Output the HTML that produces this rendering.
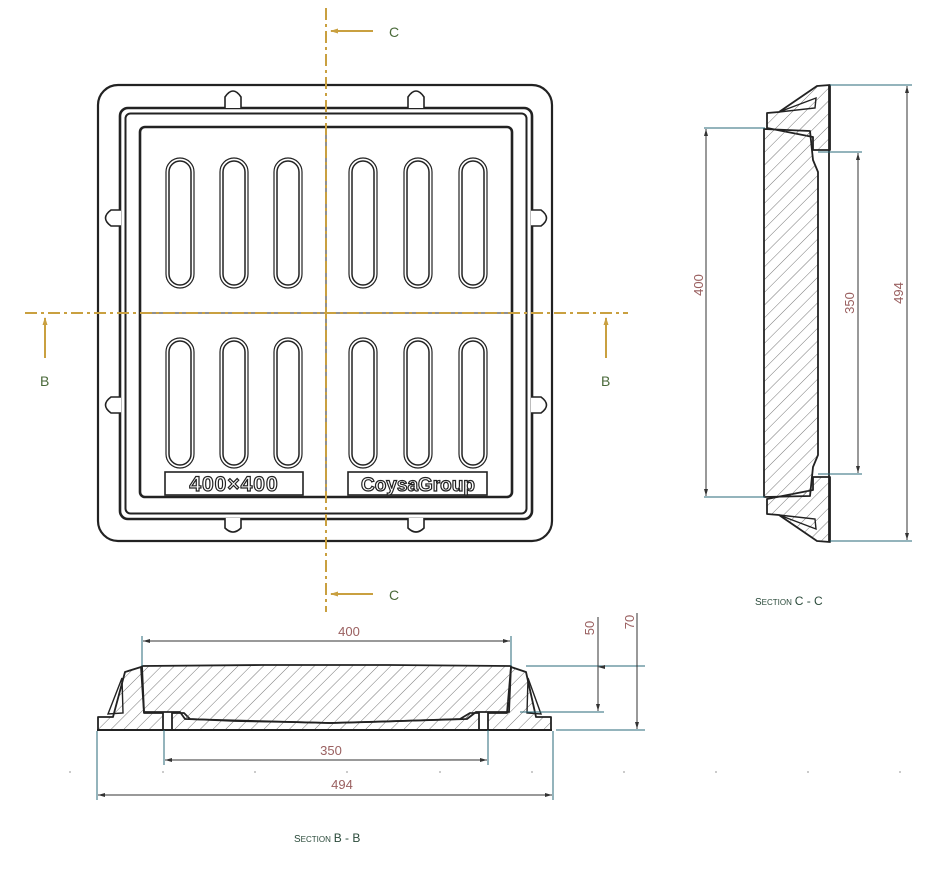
<!DOCTYPE html>
<html><head><meta charset="utf-8"><style>
html,body{margin:0;padding:0;background:#fff;}
svg{display:block;}
text{font-family:"Liberation Sans",sans-serif;}
</style></head><body>
<svg width="951" height="880" viewBox="0 0 951 880" xmlns="http://www.w3.org/2000/svg">
<defs>
<pattern id="h" patternUnits="userSpaceOnUse" width="9" height="9" patternTransform="rotate(45)">
<line x1="0" y1="0" x2="0" y2="9" stroke="#555" stroke-width="0.8"/>
</pattern>
<marker id="a" markerWidth="8" markerHeight="6" refX="7" refY="3" orient="auto-start-reverse" markerUnits="userSpaceOnUse">
<path d="M0,1 L7,3 L0,5 Z" fill="#333"/></marker>
<marker id="g" markerWidth="10" markerHeight="6" refX="1" refY="3" orient="auto" markerUnits="userSpaceOnUse">
<path d="M8,0.5 L0,3 L8,5.5 Z" fill="#c9a040"/></marker>
</defs>

<!-- PLAN -->
<g fill="none" stroke="#222">
<rect x="98" y="85" width="454" height="456" rx="20" stroke-width="2.2"/>
<rect x="120" y="108" width="412" height="411" rx="8" stroke-width="2.6"/>
<rect x="125.5" y="113.5" width="401" height="400" rx="5" stroke-width="2"/>
<rect x="140" y="127" width="372" height="370" rx="5" stroke-width="2.6"/>
</g>
<!-- lugs -->
<g fill="#fff" stroke="#222" stroke-width="1.6">
<path d="M225,108 L225,97 Q233,85 241,97 L241,108"/>
<path d="M408,108 L408,97 Q416,85 424,97 L424,108"/>
<path d="M225,518 L225,528 Q233,536 241,528 L241,518"/>
<path d="M408,518 L408,528 Q416,536 424,528 L424,518"/>
<path d="M121,210 L111,210 Q100,218 111,226 L121,226"/>
<path d="M121,397 L111,397 Q100,405 111,413 L121,413"/>
<path d="M531,210 L541,210 Q552,218 541,226 L531,226"/>
<path d="M531,397 L541,397 Q552,405 541,413 L531,413"/>
</g>
<!-- slots -->
<g fill="none" stroke="#222">
<g id="slots">
<rect x="166" y="158" width="28" height="130" rx="14" stroke-width="1.2"/>
<rect x="169" y="161" width="22" height="124" rx="11" stroke-width="1.5"/>
<rect x="220" y="158" width="28" height="130" rx="14" stroke-width="1.2"/>
<rect x="223" y="161" width="22" height="124" rx="11" stroke-width="1.5"/>
<rect x="274" y="158" width="28" height="130" rx="14" stroke-width="1.2"/>
<rect x="277" y="161" width="22" height="124" rx="11" stroke-width="1.5"/>
<rect x="349" y="158" width="28" height="130" rx="14" stroke-width="1.2"/>
<rect x="352" y="161" width="22" height="124" rx="11" stroke-width="1.5"/>
<rect x="404" y="158" width="28" height="130" rx="14" stroke-width="1.2"/>
<rect x="407" y="161" width="22" height="124" rx="11" stroke-width="1.5"/>
<rect x="459" y="158" width="28" height="130" rx="14" stroke-width="1.2"/>
<rect x="462" y="161" width="22" height="124" rx="11" stroke-width="1.5"/>
</g>
<use href="#slots" y="180"/>
<rect x="165" y="472" width="138" height="23" stroke-width="1.6"/>
<rect x="348" y="472" width="139" height="23" stroke-width="1.6"/>
</g>
<text x="234" y="491" font-size="21" font-weight="bold" text-anchor="middle" fill="#fff" stroke="#222" stroke-width="1.2" letter-spacing="1">400×400</text>
<text x="418" y="491" font-size="19" font-weight="bold" text-anchor="middle" fill="#fff" stroke="#222" stroke-width="1.2">CoysaGroup</text>
<line x1="326" y1="127" x2="326" y2="497" stroke="#222" stroke-width="1"/>
<line x1="140" y1="313" x2="512" y2="313" stroke="#222" stroke-width="1"/>
<!-- center lines -->
<g stroke="#c9a040" stroke-width="2" stroke-dasharray="12,4,3,4">
<line x1="326" y1="8" x2="326" y2="612"/>
<line x1="25" y1="313" x2="628" y2="313"/>
</g>
<g stroke="#c9a040" stroke-width="2">
<line x1="331" y1="31" x2="373" y2="31" marker-start="url(#g)"/>
<line x1="331" y1="594" x2="373" y2="594" marker-start="url(#g)"/>
<line x1="45" y1="318" x2="45" y2="358" marker-start="url(#g)"/>
<line x1="606" y1="318" x2="606" y2="358" marker-start="url(#g)"/>
</g>
<g font-size="14" fill="#4a6a3a">
<text x="389" y="37">C</text>
<text x="389" y="600">C</text>
<text x="40" y="386">B</text>
<text x="601" y="386">B</text>
</g>

<!-- SECTION C-C -->
<g stroke="#222" stroke-width="1.8" fill="url(#h)" stroke-linejoin="round">
<path d="M767,113 L779,112 L817,86 L830,85 L830,150 L813,150 L813,137 L767,128 Z"/>
<path d="M767,514 L779,515 L817,541 L830,542 L830,477 L813,477 L813,490 L767,499 Z"/>
<path d="M764,129 L810,131 L813,160 L818,172 L818,455 L813,467 L810,496 L764,497 Z"/>
</g>
<g stroke="#222" stroke-width="1.4" fill="none">
<path d="M779,112 L816,98 L815,108 Z"/>
<path d="M779,515 L816,529 L815,519 Z"/>
</g>
<line x1="829" y1="85" x2="829" y2="542" stroke="#222" stroke-width="1.8"/>
<g stroke="#2a6a7a" stroke-width="1">
<line x1="704" y1="128" x2="765" y2="128"/>
<line x1="704" y1="497" x2="765" y2="497"/>
<line x1="818" y1="152" x2="862" y2="152"/>
<line x1="818" y1="474" x2="862" y2="474"/>
<line x1="830" y1="85" x2="912" y2="85"/>
<line x1="830" y1="541" x2="912" y2="541"/>
</g>
<g stroke="#333" stroke-width="1">
<line x1="706" y1="129" x2="706" y2="496" marker-start="url(#a)" marker-end="url(#a)"/>
<line x1="858" y1="153" x2="858" y2="473" marker-start="url(#a)" marker-end="url(#a)"/>
<line x1="907" y1="86" x2="907" y2="540" marker-start="url(#a)" marker-end="url(#a)"/>
</g>
<g font-size="13" fill="#9a6060" text-anchor="middle">
<text transform="translate(703,285) rotate(-90)">400</text>
<text transform="translate(854,303) rotate(-90)">350</text>
<text transform="translate(903,293) rotate(-90)">494</text>
</g>
<text x="755" y="605" font-size="10" fill="#2a4a3a">S<tspan font-size="8">ECTION</tspan> <tspan font-size="12">C - C</tspan></text>

<!-- SECTION B-B -->
<g stroke="#222" stroke-width="1.8" fill="url(#h)" stroke-linejoin="round">
<path d="M98,717 L113,717 L125,672 L141,667 L144,713 L163,713 L163,730 L98,730 Z"/>
<path d="M551,717 L536,717 L526,672 L511,667 L507,713 L488,713 L488,730 L551,730 Z"/>
<path d="M172,730 L172,713 L184,713 L190,719 L235,721 L290,722 L330,723 L370,722 L400,721 L460,719 L470,713 L479,713 L479,730 Z"/>
<path d="M142,666 L262,665 L390,665 L511,666 L509,712 L476,712 L467,719 L400,721 L330,723 L255,721 L185,719 L180,712 L144,712 Z"/>
</g>
<g stroke="#222" stroke-width="1.4" fill="none">
<path d="M108,714 L122,678 L123,713 Z"/>
<path d="M541,714 L528,678 L527,713 Z"/>
</g>
<line x1="97" y1="730" x2="552" y2="730" stroke="#222" stroke-width="2"/>
<g stroke="#2a6a7a" stroke-width="1">
<line x1="142" y1="636" x2="142" y2="666"/>
<line x1="511" y1="636" x2="511" y2="666"/>
<line x1="164" y1="730" x2="164" y2="765"/>
<line x1="488" y1="730" x2="488" y2="765"/>
<line x1="97" y1="731" x2="97" y2="800"/>
<line x1="553" y1="731" x2="553" y2="800"/>
<line x1="526" y1="666" x2="645" y2="666"/>
<line x1="520" y1="712" x2="604" y2="712"/>
<line x1="556" y1="730" x2="645" y2="730"/>
</g>
<g stroke="#333" stroke-width="1">
<line x1="143" y1="641" x2="510" y2="641" marker-start="url(#a)" marker-end="url(#a)"/>
<line x1="165" y1="760" x2="487" y2="760" marker-start="url(#a)" marker-end="url(#a)"/>
<line x1="98" y1="795" x2="552" y2="795" marker-start="url(#a)" marker-end="url(#a)"/>
<line x1="598" y1="617" x2="598" y2="711" marker-end="url(#a)"/>
<line x1="598" y1="667" x2="598" y2="667" marker-start="url(#a)"/>
<line x1="637" y1="613" x2="637" y2="729" marker-end="url(#a)"/>
</g>
<g font-size="13" fill="#9a6060" text-anchor="middle">
<text x="349" y="636">400</text>
<text x="331" y="755">350</text>
<text x="342" y="789">494</text>
<text transform="translate(594,628) rotate(-90)">50</text>
<text transform="translate(634,622) rotate(-90)">70</text>
</g>
<g fill="#bbb">
<circle cx="70" cy="772" r="1"/><circle cx="163" cy="772" r="1"/><circle cx="255" cy="772" r="1"/>
<circle cx="347" cy="772" r="1"/><circle cx="440" cy="772" r="1"/><circle cx="532" cy="772" r="1"/>
<circle cx="624" cy="772" r="1"/><circle cx="716" cy="772" r="1"/><circle cx="808" cy="772" r="1"/>
<circle cx="900" cy="772" r="1"/>
</g>
<text x="294" y="842" font-size="10" fill="#2a4a3a">S<tspan font-size="8">ECTION</tspan> <tspan font-size="12">B - B</tspan></text>
</svg>
</body></html>
